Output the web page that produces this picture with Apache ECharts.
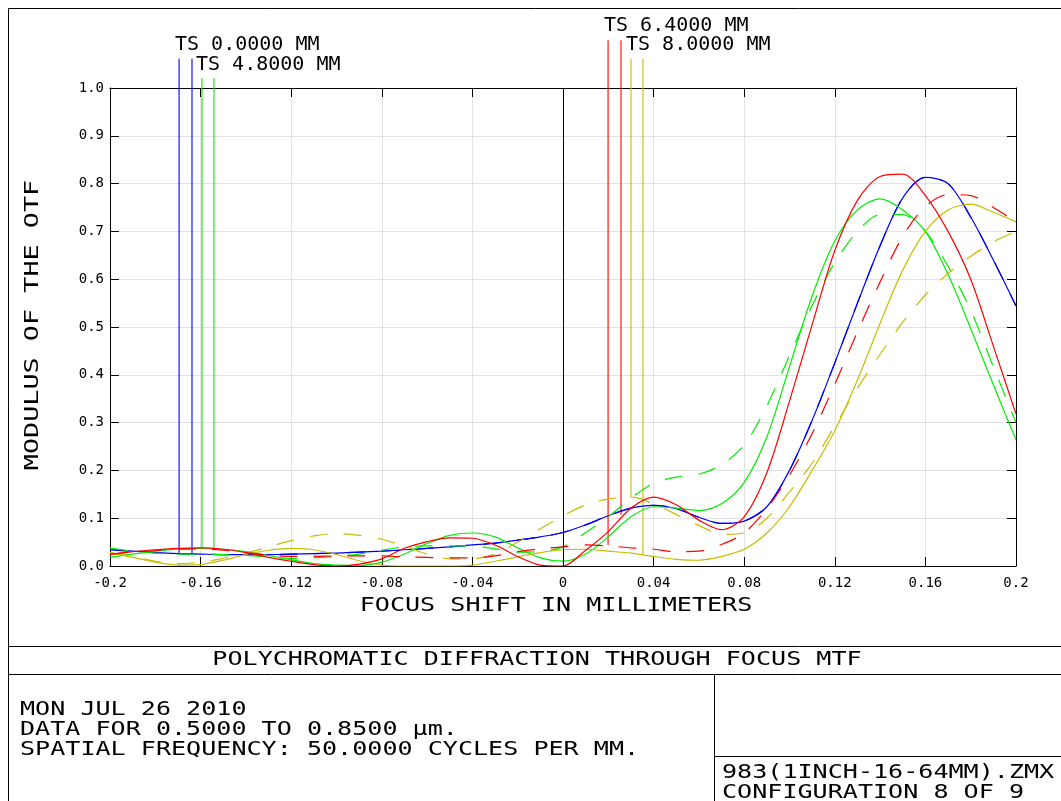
<!DOCTYPE html>
<html>
<head>
<meta charset="utf-8">
<script src="https://cdn.jsdelivr.net/npm/echarts@6/dist/echarts.min.js"></script>
<style>
html,body{margin:0;padding:0;background:#fff;}
#chart{width:1061px;height:801px;}
</style>
</head>
<body>
<div id="chart"></div>
<script>
// ---- data ----
const xs = [-0.2,-0.19,-0.18,-0.17,-0.16,-0.15,-0.14,-0.13,-0.12,-0.11,-0.10,-0.09,-0.08,-0.07,-0.06,-0.05,-0.04,-0.03,-0.02,-0.01,0,
            0.01,0.02,0.03,0.04,0.05,0.06,0.07,0.08,0.09,0.10,0.11,0.12,0.13,0.14,0.15,0.16,0.17,0.18,0.19,0.2];

// field 0.0000 mm (blue) - T and S coincide on axis
const blueT = [0.034,0.031,0.028,0.026,0.025,0.024,0.024,0.024,0.025,0.026,0.027,0.029,0.031,0.034,0.037,0.040,0.044,0.048,0.054,0.061,0.070,
               0.086,0.105,0.121,0.127,0.120,0.102,0.089,0.094,0.124,0.200,0.305,0.425,0.550,0.670,0.770,0.813,0.800,0.730,0.640,0.544];
const blueS = [0.034,0.031,0.028,0.026,0.025,0.024,0.024,0.024,0.025,0.026,0.027,0.029,0.031,0.034,0.037,0.040,0.044,0.048,0.054,0.061,0.070,
               0.086,0.105,0.121,0.127,0.120,0.102,0.089,0.094,0.124,0.200,0.305,0.425,0.550,0.670,0.770,0.813,0.800,0.730,0.640,0.544];
// field 4.8000 mm (green)
const greenT = [0.018,0.025,0.031,0.036,0.037,0.035,0.030,0.022,0.013,0.005,0.002,0.001,0.008,0.025,0.047,0.064,0.069,0.061,0.038,0.017,0.010,
                0.025,0.061,0.103,0.124,0.121,0.116,0.130,0.175,0.270,0.417,0.565,0.680,0.745,0.768,0.745,0.700,0.610,0.497,0.379,0.264];
const greenS = [0.038,0.031,0.027,0.025,0.025,0.024,0.022,0.019,0.016,0.017,0.020,0.025,0.033,0.040,0.042,0.042,0.042,0.036,0.029,0.030,0.040,
                0.070,0.103,0.142,0.173,0.186,0.192,0.212,0.253,0.335,0.440,0.545,0.635,0.700,0.735,0.735,0.700,0.627,0.535,0.417,0.300];
// field 6.4000 mm (red)
const redT = [0.024,0.030,0.034,0.037,0.038,0.035,0.028,0.018,0.010,0.003,0.000,0.004,0.015,0.037,0.051,0.059,0.058,0.044,0.020,0.002,0.000,
              0.033,0.072,0.121,0.144,0.128,0.096,0.076,0.103,0.195,0.345,0.505,0.660,0.765,0.815,0.820,0.775,0.700,0.600,0.460,0.318];
const redS = [0.025,0.029,0.032,0.035,0.036,0.033,0.028,0.023,0.020,0.020,0.021,0.021,0.021,0.019,0.018,0.017,0.017,0.021,0.030,0.036,0.040,
              0.044,0.042,0.038,0.035,0.030,0.031,0.045,0.069,0.120,0.190,0.277,0.380,0.490,0.594,0.690,0.752,0.777,0.775,0.750,0.720];
// field 8.0000 mm (yellow)
const yellowT = [0.028,0.018,0.008,0.002,0.003,0.012,0.024,0.033,0.037,0.034,0.024,0.011,0.002,0.000,0.000,0.000,0.002,0.010,0.019,0.028,0.034,
                 0.035,0.031,0.027,0.020,0.014,0.012,0.020,0.035,0.069,0.124,0.200,0.283,0.389,0.508,0.619,0.700,0.745,0.757,0.740,0.720];
const yellowS = [0.028,0.020,0.010,0.005,0.008,0.016,0.027,0.040,0.053,0.063,0.068,0.064,0.056,0.041,0.025,0.015,0.015,0.025,0.050,0.078,0.105,
                 0.128,0.140,0.144,0.130,0.108,0.085,0.066,0.069,0.100,0.155,0.215,0.293,0.372,0.443,0.510,0.567,0.612,0.648,0.678,0.700];

// legend drop lines (x in mm, top and bottom in MTF units)
const tsLineX   = [-0.1695,-0.1638,-0.1594,-0.1541,0.0199,0.0256,0.0300,0.0353];
const tsLineTop = [1.061,1.061,1.021,1.021,1.100,1.100,1.061,1.061];
const tsLineEnd = [0.025,0.025,0.037,0.037,0.044,0.107,0.142,0.023];
const tsLabels  = ['TS 0.0000 MM','TS 4.8000 MM','TS 6.4000 MM','TS 8.0000 MM'];

const xTickLabels = ['-0.2','-0.16','-0.12','-0.08','-0.04','0','0.04','0.08','0.12','0.16','0.2'];
const yTickLabels = ['0.0','0.1','0.2','0.3','0.4','0.5','0.6','0.7','0.8','0.9','1.0'];

const infoLines = ['MON JUL 26 2010','DATA FOR 0.5000 TO 0.8500 \u00b5m.','SPATIAL FREQUENCY: 50.0000 CYCLES PER MM.'];
const fileLines = ['983(1INCH-16-64MM).ZMX','CONFIGURATION 8 OF 9'];
const plotTitle = 'POLYCHROMATIC DIFFRACTION THROUGH FOCUS MTF';
const xName = 'FOCUS SHIFT IN MILLIMETERS';
const yName = 'MODULUS OF THE OTF';

// ---- styling ----
const C = {blue:'#0000ff', green:'#00ee00', red:'#ff0000', yellow:'#c8bc00'};
const FONT = '"DejaVu Sans Mono", "Liberation Mono", monospace';
const DASH = [18, 16];

function curve(name, arr, color, dashed) {
  return {
    name, type:'line', xAxisIndex:0, yAxisIndex:0,
    data: xs.map((x,i)=>[x, arr[i]]),
    showSymbol:false, symbol:'none', smooth:0.3, silent:true,
    lineStyle:{color, width:1.2, type: dashed ? DASH : 'solid'},
    z: 3
  };
}
const lineColors = [C.blue,C.blue,C.green,C.green,C.red,C.red,C.yellow,C.yellow];
const dropSeries = tsLineX.map((x,i)=>({
  type:'line', data:[[x, tsLineTop[i]],[x, tsLineEnd[i]]], clip:false,
  showSymbol:false, symbol:'none', silent:true,
  lineStyle:{color:lineColors[i], width:1.1}, z:2
}));

const series = [
  curve('blueT', blueT, C.blue, false),
  curve('blueS', blueS, C.blue, true),
  curve('greenT', greenT, C.green, false),
  curve('greenS', greenS, C.green, true),
  curve('yellowT', yellowT, C.yellow, false),
  curve('yellowS', yellowS, C.yellow, true),
  curve('redT', redT, C.red, false),
  curve('redS', redS, C.red, true),
  ...dropSeries
];
series[0].markLine = {
  silent:true, symbol:'none', animation:false,
  label:{show:false},
  lineStyle:{color:'#000', type:'solid', width:1},
  emphasis:{disabled:true},
  data:[{xAxis:0}]
};

function txt(text, x, y, opts) {
  opts = opts || {};
  return {
    type:'text', x, y, rotation: opts.rot || 0, scaleX: opts.sx || 1, silent:true,
    style:{text, fill:'#000', font: (opts.size||19)+'px '+FONT,
           textAlign: opts.align || 'left', textVerticalAlign:'middle'}
  };
}
function ln(x1,y1,x2,y2){ return {type:'line', silent:true, shape:{x1,y1,x2,y2}, style:{stroke:'#000', lineWidth:1}}; }

const SX = 1.32;
const graphics = [
  {type:'rect', silent:true, shape:{x:8.5,y:8.5,width:1080,height:820}, style:{fill:null, stroke:'#000', lineWidth:1}},
  ln(8,646.5,1070,646.5),
  ln(8,674.5,1070,674.5),
  ln(714.5,674,714.5,810),
  ln(714,756.5,1070,756.5),
  txt(tsLabels[0], 175, 45, {size:20}),
  txt(tsLabels[1], 196, 64.5, {size:20}),
  txt(tsLabels[2], 604, 25.5, {size:20}),
  txt(tsLabels[3], 626, 45, {size:20}),
  txt(xName, 556, 606, {align:'center', sx:SX}),
  txt(yName, 33, 325, {align:'center', sx:1.41, rot:Math.PI/2}),
  txt(plotTitle, 537, 660, {align:'center', sx:SX}),
  txt(infoLines[0], 20, 710, {sx:SX}),
  txt(infoLines[1], 20, 730, {sx:SX}),
  txt(infoLines[2], 20, 750, {sx:SX}),
  txt(fileLines[0], 722, 773, {sx:SX}),
  txt(fileLines[1], 722, 793, {sx:SX})
];

const axisLine = {show:true, onZero:false, lineStyle:{color:'#000', width:1}};
const tick = {show:true, inside:true, length:9, lineStyle:{color:'#000', width:1}};

const option = {
  animation:false,
  backgroundColor:'#fff',
  grid:{left:110, right:45, top:88, bottom:235, containLabel:false, outerBoundsMode:'none'},
  xAxis:[
    {type:'value', min:-0.2, max:0.2, interval:0.04, position:'bottom',
     axisLine, axisTick:tick,
     axisLabel:{show:true, margin:10, color:'#000', fontFamily:FONT, fontSize:14,
                formatter:(v)=>xTickLabels[Math.round((v+0.2)/0.04)]},
     splitLine:{show:true, lineStyle:{color:'#e2e2e2', width:1}}},
    {type:'value', min:-0.2, max:0.2, interval:0.04, position:'top',
     axisLine, axisTick:tick, axisLabel:{show:false}, splitLine:{show:false}}
  ],
  yAxis:[
    {type:'value', min:0, max:1, interval:0.1, position:'left',
     axisLine, axisTick:tick,
     axisLabel:{show:true, margin:6, color:'#000', fontFamily:FONT, fontSize:14,
                formatter:(v)=>yTickLabels[Math.round(v/0.1)]},
     splitLine:{show:true, lineStyle:{color:'#e2e2e2', width:1}}},
    {type:'value', min:0, max:1, interval:0.1, position:'right',
     axisLine, axisTick:tick, axisLabel:{show:false}, splitLine:{show:false}}
  ],
  series,
  graphic:graphics
};

const chart = echarts.init(document.getElementById('chart'), null, {renderer:'canvas'});
chart.setOption(option);
</script>
</body>
</html>
